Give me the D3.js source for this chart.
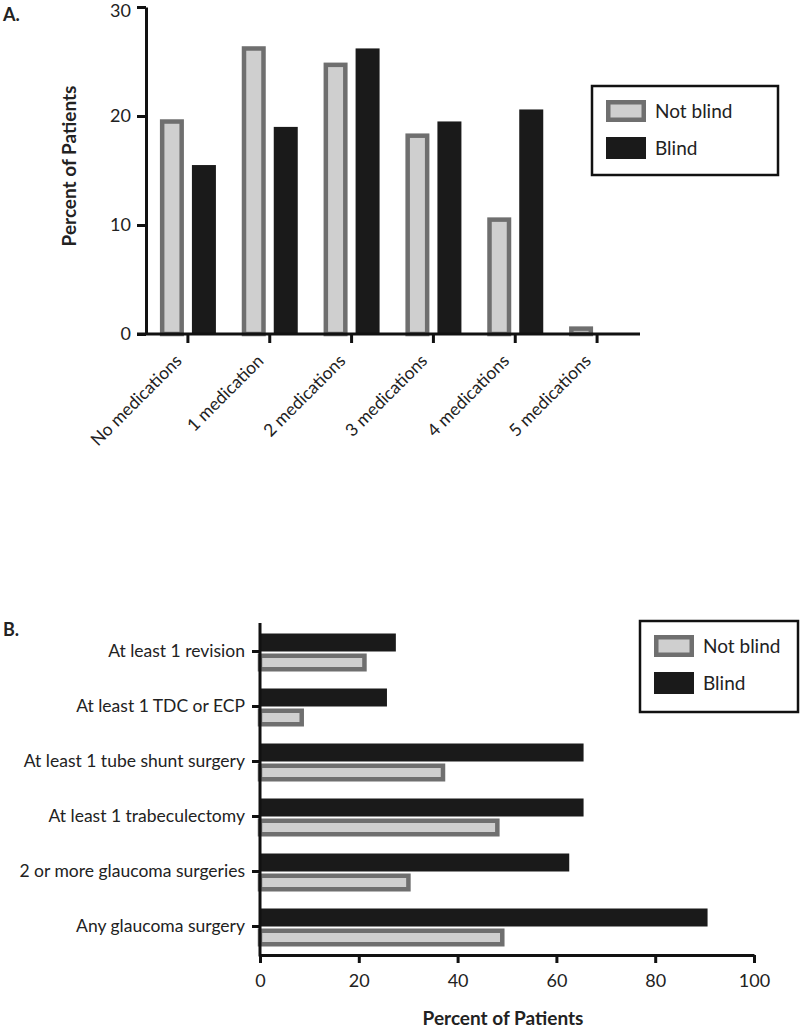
<!DOCTYPE html>
<html><head><meta charset="utf-8">
<script src="https://cdn.jsdelivr.net/npm/d3@7"></script>
<style>
body{margin:0;background:#fff;}
svg{display:block;font-family:Lato, "Open Sans", sans-serif;}
</style></head>
<body><svg id="c" width="800" height="1030"></svg>
<script>
const series = ["Not blind", "Blind"];
const medCategories = ["No medications","1 medication","2 medications","3 medications","4 medications","5 medications"];
const medNotBlind = [19.7, 26.4, 24.9, 18.4, 10.7, 0.7];
const medBlind = [15.5, 19.0, 26.2, 19.5, 20.6, 0];
const medTicks = [0, 10, 20, 30];

const surgCategories = ["At least 1 revision","At least 1 TDC or ECP","At least 1 tube shunt surgery","At least 1 trabeculectomy","2 or more glaucoma surgeries","Any glaucoma surgery"];
const surgNotBlind = [21.6, 8.9, 37.5, 48.5, 30.5, 49.5];
const surgBlind = [27.5, 25.7, 65.5, 65.5, 62.6, 90.6];
const surgTicks = [0, 20, 40, 60, 80, 100];

const GRAY_FILL = "#cfcfcf", GRAY_STROKE = "#6f6f6f", BLACK = "#1a1a1a";
const SW = 4.5;
const svg = d3.select("#c");

// ---------- Chart A ----------
const A = {left:146, right:640, top:7, bottom:334};
const xA = d3.scaleBand().domain(medCategories).range([147, 638]).padding(0);
const xA1 = d3.scaleBand().domain(series).range([-28, 28]).paddingInner(0.25);
const yA = d3.scaleLinear().domain([0, 30]).range([A.bottom, A.top]);

const gA = svg.append("g");
medCategories.forEach((c, i) => {
  const cx = xA(c) + xA.bandwidth()/2;
  const vals = {"Not blind": medNotBlind[i], "Blind": medBlind[i]};
  series.forEach(s => {
    const v = vals[s];
    if (v <= 0) return;
    const x0 = cx + xA1(s), w = xA1.bandwidth();
    const y0 = yA(v), h = yA(0) - yA(v);
    if (s === "Not blind") {
      gA.append("rect").attr("x", x0 + SW/2).attr("y", y0 + SW/2)
        .attr("width", w - SW).attr("height", Math.max(0, h - SW/2))
        .attr("fill", GRAY_FILL).attr("stroke", GRAY_STROKE).attr("stroke-width", SW);
    } else {
      gA.append("rect").attr("x", x0).attr("y", y0).attr("width", w).attr("height", h).attr("fill", BLACK);
    }
  });
});

// y axis A
const yAxisA = d3.axisLeft(yA).tickValues(medTicks).tickSize(9).tickSizeOuter(0).tickPadding(6);
const gyA = svg.append("g").attr("transform", `translate(${A.left},0)`).call(yAxisA);
gyA.select(".domain").attr("stroke", "#111").attr("stroke-width", 3);
gyA.selectAll(".tick line").attr("stroke", "#111").attr("stroke-width", 3);
gyA.selectAll(".tick text").attr("font-size", 18).attr("fill", "#222").attr("font-family", "Lato")
  .attr("dy", d => d === 30 ? "0.55em" : "0.32em");

// x axis A
const xAxisA = d3.axisBottom(xA).tickSize(9).tickSizeOuter(0).tickFormat("");
const gxA = svg.append("g").attr("transform", `translate(0,${A.bottom})`).call(xAxisA);
gxA.select(".domain").remove();
gxA.append("line").attr("x1", 137).attr("x2", A.right).attr("y1", 0).attr("y2", 0)
  .attr("stroke", "#111").attr("stroke-width", 3);
gxA.selectAll(".tick line").attr("stroke", "#111").attr("stroke-width", 3);
medCategories.forEach(c => {
  const cx = xA(c) + xA.bandwidth()/2;
  svg.append("text").attr("transform", `translate(${cx-5},${A.bottom+28}) rotate(-45)`)
    .attr("text-anchor", "end").attr("font-size", 17.5).attr("fill", "#222").text(c);
});

svg.append("text").attr("transform", `translate(76,166) rotate(-90)`)
  .attr("text-anchor", "middle").attr("font-size", 19).attr("font-weight", "bold").attr("fill", "#222")
  .text("Percent of Patients");
svg.append("text").attr("x", 3).attr("y", 21).attr("font-size", 18).attr("font-weight", "bold").attr("fill", "#222").text("A.");

// Legend
function legend(x, y, w, h) {
  const g = svg.append("g").attr("transform", `translate(${x},${y})`);
  g.append("rect").attr("x", 0).attr("y", 0).attr("width", w).attr("height", h)
    .attr("fill", "#fff").attr("stroke", "#111").attr("stroke-width", 2.5);
  series.forEach((s, i) => {
    const yy = 14 + i * 37;
    if (s === "Not blind") {
      g.append("rect").attr("x", 14 + SW/2).attr("y", yy + SW/2).attr("width", 40 - SW).attr("height", 22 - SW)
        .attr("fill", GRAY_FILL).attr("stroke", GRAY_STROKE).attr("stroke-width", SW);
    } else {
      g.append("rect").attr("x", 14).attr("y", yy).attr("width", 40).attr("height", 22).attr("fill", BLACK);
    }
    g.append("text").attr("x", 63).attr("y", yy + 18).attr("font-size", 19).attr("fill", "#222").text(s);
  });
}
legend(592, 86, 186, 89);

// ---------- Chart B ----------
const B = {left:260, right:754, top:623, bottom:955};
const xB = d3.scaleLinear().domain([0, 100]).range([B.left, B.right]);
const yB = d3.scaleBand().domain(surgCategories).range([624, 954]).padding(0);
const yB1 = d3.scaleBand().domain(["Blind", "Not blind"]).range([-18, 20]).paddingInner(0.1);

const gB = svg.append("g");
surgCategories.forEach((c, i) => {
  const cy = yB(c) + yB.bandwidth()/2;
  const vals = {"Not blind": surgNotBlind[i], "Blind": surgBlind[i]};
  series.forEach(s => {
    const v = vals[s];
    const y0 = cy + yB1(s), h = yB1.bandwidth();
    const x0 = xB(0), w = xB(v) - xB(0);
    if (s === "Not blind") {
      gB.append("rect").attr("x", x0).attr("y", y0 + SW/2).attr("width", w - SW/2).attr("height", h - SW)
        .attr("fill", GRAY_FILL).attr("stroke", GRAY_STROKE).attr("stroke-width", SW);
    } else {
      gB.append("rect").attr("x", x0).attr("y", y0).attr("width", w).attr("height", h).attr("fill", BLACK);
    }
  });
});

const yAxisB = d3.axisLeft(yB).tickSize(8).tickSizeOuter(0).tickPadding(7);
const gyB = svg.append("g").attr("transform", `translate(${B.left},0)`).call(yAxisB);
gyB.select(".domain").remove();
gyB.append("line").attr("x1", 0).attr("x2", 0).attr("y1", B.top).attr("y2", B.bottom + 1.5)
  .attr("stroke", "#111").attr("stroke-width", 3);
gyB.selectAll(".tick line").attr("stroke", "#111").attr("stroke-width", 3);
gyB.selectAll(".tick text").attr("font-size", 17.5).attr("fill", "#222").attr("font-family", "Lato");

const xAxisB = d3.axisBottom(xB).tickValues(surgTicks).tickSize(8).tickSizeOuter(0).tickPadding(11);
const gxB = svg.append("g").attr("transform", `translate(0,${B.bottom})`).call(xAxisB);
gxB.select(".domain").attr("stroke", "#111").attr("stroke-width", 3);
gxB.selectAll(".tick line").attr("stroke", "#111").attr("stroke-width", 3);
gxB.selectAll(".tick text").attr("font-size", 18).attr("fill", "#222").attr("font-family", "Lato");

svg.append("text").attr("x", 503).attr("y", 1025).attr("text-anchor", "middle")
  .attr("font-size", 19).attr("font-weight", "bold").attr("fill", "#222").text("Percent of Patients");
svg.append("text").attr("x", 3).attr("y", 636).attr("font-size", 18).attr("font-weight", "bold").attr("fill", "#222").text("B.");

legend(640, 621, 158, 91);
</script></body></html>
